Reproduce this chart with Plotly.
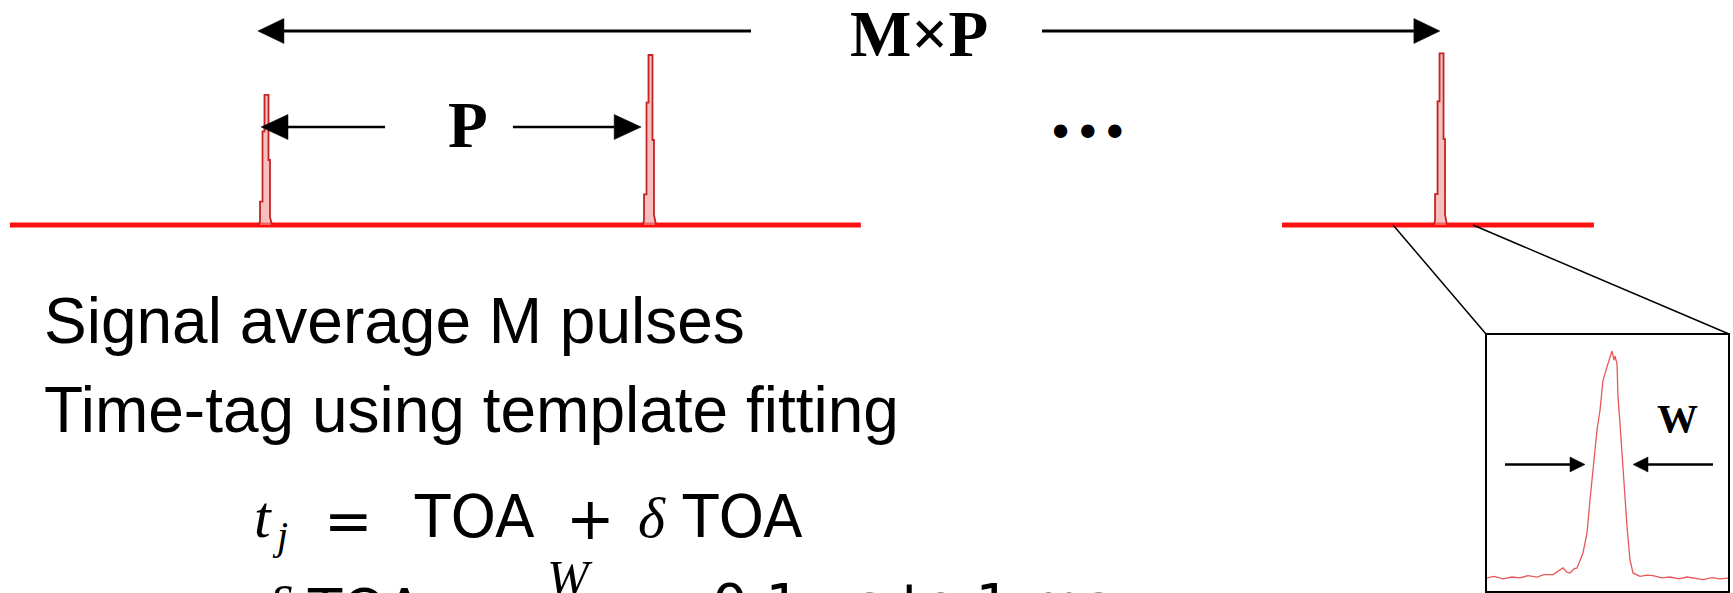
import plotly.graph_objects as go

# ---------------------------------------------------------------
# Pulse train: time in units of the pulse period P,
# amplitude normalised to the tallest pulse (baseline = 0)
# ---------------------------------------------------------------
pulse_times = [0.0, 1.0, 3.06]          # 1st, 2nd and M-th pulse
pulse_peaks = [0.765, 1.0, 1.01]
# shape of one recorded pulse (offset from pulse time, fraction of peak)
pulse_offsets = [-0.0182, -0.0156, -0.0156, -0.0091, -0.0091, -0.0039,
                 -0.0039, 0.0065, 0.0065, 0.0104, 0.0104, 0.0156]
pulse_shape = [0.0, 0.03, 0.18, 0.18, 0.72, 0.72, 1.0, 1.0, 0.5, 0.5, 0.06, 0.0]
# the two recorded stretches of the time series
segment_starts = [-0.667, 2.646]
segment_ends = [1.549, 3.458]
# stretch around the M-th pulse that is magnified in the inset
zoom_window = [2.935, 3.143]

# ---------------------------------------------------------------
# Averaged pulse profile (inset): time offset and normalised amplitude
# ---------------------------------------------------------------
profile_t = [-125, -118, -109, -100, -92, -84, -75, -68, -59, -53,
             -49, -45, -42, -38, -35, -29, -25, -22, -19, -15,
             -12, -9, -5, -2, 0, 2, 3, 5, 6, 8,
             11, 15, 18, 21, 28, 35, 41, 50, 58, 67,
             75, 83, 91, 100, 108, 116]
profile_amp = [0.00, 0.007, -0.004, 0.004, 0.0, 0.01, 0.004, 0.015, 0.015, 0.034,
               0.044, 0.025, 0.022, 0.04, 0.044, 0.11, 0.198, 0.344, 0.476, 0.652,
               0.739, 0.871, 0.93, 0.974, 1.0, 0.96, 0.977, 0.944, 0.798, 0.68,
               0.476, 0.227, 0.08, 0.022, 0.007, 0.012, 0.01, 0.0, 0.004, -0.004,
               0.004, -0.001, -0.007, 0.001, -0.004, -0.001]
half_max = 0.5
width_marks = [-27, 21]        # where the width arrows point

# ---------------------------------------------------------------
# Geometry of the canvas and axes
# ---------------------------------------------------------------
FIG_W, FIG_H = 1733, 593
X_RANGE = [-266 / 384, (FIG_W - 266) / 384]
Y_RANGE = [-(FIG_H - 225) / 170, 225 / 170]
INSET_X = [-126, 117]
INSET_Y = [-0.062, 1.075]
INSET_DOM_X = [1486 / FIG_W, 1729 / FIG_W]
INSET_DOM_Y = [1 / FIG_H, 259 / FIG_H]


def xp(t):
    return (t - X_RANGE[0]) / (X_RANGE[1] - X_RANGE[0])


def yp(v):
    return (v - Y_RANGE[0]) / (Y_RANGE[1] - Y_RANGE[0])


def ixp(t):
    f = (t - INSET_X[0]) / (INSET_X[1] - INSET_X[0])
    return INSET_DOM_X[0] + f * (INSET_DOM_X[1] - INSET_DOM_X[0])


def iyp(a):
    f = (a - INSET_Y[0]) / (INSET_Y[1] - INSET_Y[0])
    return INSET_DOM_Y[0] + f * (INSET_DOM_Y[1] - INSET_DOM_Y[0])


def px(p):
    return p / FIG_W


def py(p):
    return 1 - p / FIG_H


fig = go.Figure()

# baseline of the recorded time series
for s, e in zip(segment_starts, segment_ends):
    fig.add_trace(go.Scatter(x=[s, e], y=[0, 0], mode="lines",
                             line=dict(color="#ff1010", width=5),
                             hoverinfo="skip", showlegend=False))

# individual pulses
for t0, peak in zip(pulse_times, pulse_peaks):
    fig.add_trace(go.Scatter(
        x=[t0 + o for o in pulse_offsets],
        y=[peak * s for s in pulse_shape],
        mode="lines", fill="toself", fillcolor="rgba(240,150,150,0.6)",
        line=dict(color="rgb(195,35,35)", width=1.8),
        hoverinfo="skip", showlegend=False))

# averaged profile in the inset
fig.add_trace(go.Scatter(x=profile_t, y=profile_amp, mode="lines",
                         xaxis="x2", yaxis="y2",
                         line=dict(color="rgba(228,70,70,0.9)", width=1.3),
                         hoverinfo="skip", showlegend=False))

shapes = []


def arrow(x_from, x_to, y, head_len, head_half, width):
    """Horizontal arrow in paper coordinates with a filled head at x_to."""
    d = 1 if x_to > x_from else -1
    base = x_to - d * head_len / FIG_W
    shapes.append(dict(type="line", xref="paper", yref="paper",
                       x0=x_from, x1=base, y0=y, y1=y,
                       line=dict(color="black", width=width)))
    hh = head_half / FIG_H
    shapes.append(dict(type="path", xref="paper", yref="paper",
                       path=f"M {x_to},{y} L {base},{y + hh} L {base},{y - hh} Z",
                       fillcolor="black", line=dict(color="black", width=0.5)))


# M x P span (first pulse to M-th pulse)
arrow(xp(1.263), xp(-0.021), py(31), 26, 12.5, 3)
arrow(xp(2.021), xp(3.057), py(31), 26, 12.5, 3)
# P span (pulse to pulse)
arrow(xp(0.310), xp(-0.013), py(127), 27, 12.5, 2.5)
arrow(xp(0.643), xp(0.977), py(127), 27, 12.5, 2.5)
# pulse width in the inset
arrow(ixp(-107), ixp(width_marks[0]), iyp(half_max), 15, 7.5, 2.5)
arrow(ixp(101), ixp(width_marks[1]), iyp(half_max), 15, 7.5, 2.5)

# inset frame and the lines tying it to the magnified stretch
shapes.append(dict(type="rect", xref="paper", yref="paper",
                   x0=INSET_DOM_X[0], x1=INSET_DOM_X[1],
                   y0=INSET_DOM_Y[0], y1=INSET_DOM_Y[1],
                   line=dict(color="black", width=2)))
shapes.append(dict(type="line", xref="paper", yref="paper",
                   x0=xp(zoom_window[0]), y0=yp(0),
                   x1=INSET_DOM_X[0], y1=INSET_DOM_Y[1],
                   line=dict(color="black", width=1.5)))
shapes.append(dict(type="line", xref="paper", yref="paper",
                   x0=xp(zoom_window[1]), y0=yp(0),
                   x1=INSET_DOM_X[1], y1=INSET_DOM_Y[1],
                   line=dict(color="black", width=1.5)))

SERIF = "Liberation Serif"
SANS = "Liberation Sans"
MATH_SANS = "DejaVu Sans"


def label(text, x, y, size, family, xanchor="center", bold=False):
    return dict(text=text, x=px(x), y=py(y), xref="paper", yref="paper",
                xanchor=xanchor, yanchor="middle", showarrow=False,
                font=dict(size=size, family=family, color="black",
                          weight="bold" if bold else "normal"),
                borderpad=0)


annotations = [
    label("M×P", 919, 33.5, 65, SERIF, bold=True),
    label("P", 468, 125, 65, SERIF, bold=True),
    label("•••", 1087, 133, 46, MATH_SANS),
    label("W", 1677, 418, 41, SERIF, bold=True),
    label("Signal average M pulses", 43, 320.5, 64, SANS, xanchor="left"),
    label("Time-tag using template fitting", 43, 409.5, 64, SANS, xanchor="left"),
    # t_j = TOA + δTOA
    label("<i>t</i>", 253, 517, 60, SERIF, xanchor="left"),
    label("<i>j</i>", 271, 535, 40, SERIF, xanchor="left"),
    label("=", 348, 521, 58, MATH_SANS),
    label("TOA", 474, 517, 58, MATH_SANS),
    label("+", 590, 519, 58, MATH_SANS),
    label("<i>δ</i>", 637, 517, 58, SERIF, xanchor="left"),
    label("TOA", 742, 517, 58, MATH_SANS),
    # δTOA ≃ W/(S/N) ≃ 0.1 μs to 1 ms  (lower half lies below the frame)
    label("<i>δ</i>", 263, 606, 58, SERIF, xanchor="left"),
    label("TOA", 365, 608, 56, MATH_SANS),
    label("≃", 475, 620, 56, MATH_SANS),
    label("<i>W</i>", 570, 578, 50, SERIF),
    label("≃", 665, 620, 56, MATH_SANS),
    label("0.1 μs to 1 ms", 711, 604, 56, MATH_SANS, xanchor="left"),
]

hidden = dict(visible=False, showgrid=False, zeroline=False, fixedrange=True)
fig.update_layout(
    width=FIG_W, height=FIG_H,
    margin=dict(l=0, r=0, t=0, b=0),
    paper_bgcolor="white", plot_bgcolor="rgba(0,0,0,0)",
    showlegend=False, hovermode=False,
    xaxis=dict(range=X_RANGE, domain=[0, 1], **hidden),
    yaxis=dict(range=Y_RANGE, domain=[0, 1], **hidden),
    xaxis2=dict(range=INSET_X, domain=INSET_DOM_X, anchor="y2", **hidden),
    yaxis2=dict(range=INSET_Y, domain=INSET_DOM_Y, anchor="x2", **hidden),
    shapes=shapes,
    annotations=annotations,
)

fig.write_html("out.html")
